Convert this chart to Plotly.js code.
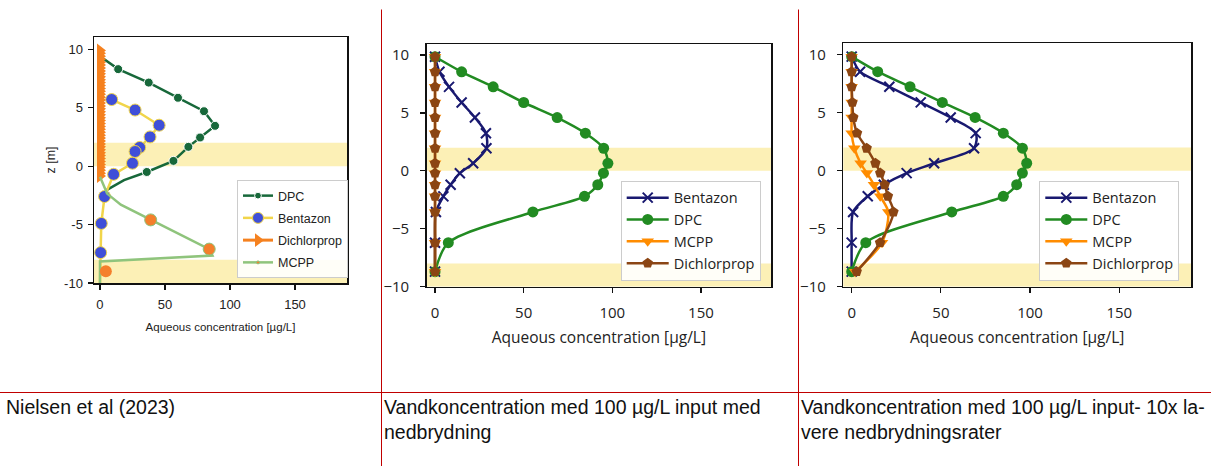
<!DOCTYPE html>
<html>
<head>
<meta charset="utf-8">
<script src="https://cdn.plot.ly/plotly-3.0.1.min.js"></script>
<style>
  html, body { margin: 0; padding: 0; background: #ffffff; }
  #chart { width: 1211px; height: 466px; }
</style>
</head>
<body>
<div id="chart"></div>
<script>
// ---------- Nielsen et al (2023) profile ----------
const nielsenDpcZ = [9.4, 8.3, 7.15, 5.85, 4.7, 3.45, 2.45, 1.65, 0.45, -0.5, -1.2, -2.05];
const nielsenDpcC = [0, 14, 37.5, 60, 80, 88.5, 77, 68, 56.5, 36, 18.5, 5];
const nielsenDpcMarker = [0, 9, 9, 9, 9, 9, 9, 9, 9, 9, 0, 0];

const nielsenBentazonZ = [5.7, 4.8, 3.5, 2.5, 1.6, 1.25, 0.25, -0.7, -2.6, -4.9, -7.4, -10];
const nielsenBentazonC = [9, 27, 45.5, 38.5, 30.5, 27, 25, 10.5, 3.5, 1, 0.5, 0];
const nielsenBentazonMarker = [12, 12, 12, 12, 12, 12, 12, 12, 12, 12, 12, 0];

const nielsenDichlorpropZ = [9.9, 9.65, 9.4, 9.15, 8.9, 8.65, 8.4, 8.15, 7.9, 7.65, 7.4, 7.15,
  6.9, 6.65, 6.4, 6.15, 5.9, 5.65, 5.4, 5.15, 4.9, 4.65, 4.4, 4.15, 3.9, 3.65, 3.4, 3.15,
  2.9, 2.65, 2.4, 2.15, 1.9, 1.65, 1.4, 1.15, 0.9, 0.65, 0.4, 0.15, -0.1, -0.35, -0.6, -0.85];
const nielsenDichlorpropC = [0, 0, 0, 0, 0, 0, 0, 0, 0, 0, 0, 0, 0, 0, 0, 0, 0, 0, 0, 0, 0, 0,
  0, 0, 0, 0, 0, 0, 0, 0, 0, 0, 0, 0, 0, 0, 0, 0, 0, 0, 0, 0, 0, 0];

const nielsenMcppZ = [-0.9, -2.35, -3.3, -4.6, -7.1, -7.65, -8.15, -10];
const nielsenMcppC = [0, 5.5, 16, 39, 84, 86.5, 0, 0];
const nielsenMcppMarker = [0, 0, 0, 12, 12, 0, 0, 0];
const nielsenMcppExtraZ = [-9.0];
const nielsenMcppExtraC = [4.5];

// ---------- model depth levels (m) ----------
const depthLevels = [9.85, 8.55, 7.25, 5.9, 4.6, 3.25, 1.95, 0.65, -0.2, -1.2, -2.2, -3.55, -6.2, -8.7];

// 100 µg/L input, with degradation
const bentazonDeg    = [0, 2.5, 7.9, 15, 22.5, 28.7, 29, 21.5, 14, 8.8, 4.7, 0.5, 0, 0];
const dpcDeg         = [0, 15, 32.8, 50, 68.9, 84.8, 95.1, 97.5, 95, 91.8, 84.3, 55.2, 7.5, 0];
const mcppDeg        = [0, 0, 0, 0, 0, 0, 0, 0, 0, 0, 0, 0, 0, 0];
const dichlorpropDeg = [0, 0, 0, 0, 0, 0, 0, 0, 0, 0, 0, 0, 0, 0];

// 100 µg/L input, 10x lower degradation rates
const bentazonSlow    = [0, 4.7, 21.1, 38.7, 55.5, 69.5, 68.6, 46.2, 30.8, 18, 9, 0.8, 0, 0];
const dpcSlow         = [0, 14.6, 32.7, 50.8, 69.2, 85, 95.7, 98.1, 95.7, 92.5, 85, 56.1, 7.9, 0];
const mcppSlow        = [0, 0, 0, 0, 0, 0, 1.5, 5, 8.5, 12.5, 16, 20.5, 17, 2];
const dichlorpropSlow = [0, 0, 0, 0.4, 0.9, 3, 8.4, 13.3, 16, 18.5, 20.3, 23.4, 15.9, 2.8];

const xTicks = [0, 50, 100, 150];
const zTicks = [-10, -5, 0, 5, 10];
const zTickTextHyphen = ['-10', '-5', '0', '5', '10'];

const xTitle = 'Aqueous concentration [µg/L]';
const captions = [
  'Nielsen et al (2023)',
  'Vandkoncentration med 100 µg/L input med<br>nedbrydning',
  'Vandkoncentration med 100 µg/L input- 10x la-<br>vere nedbrydningsrater'
];

// ---------- styling ----------
const simFont = 'Open Sans, Liberation Sans, sans-serif';
const smallFont = 'Liberation Sans, Arial, sans-serif';
const captionFont = 'Liberation Sans, Arial, sans-serif';
const bandColor = '#fcf0b6';
const tableRed = '#c00000';
const W = 1211, H = 466;
const px = v => v / W;
const py = v => 1 - v / H;

const traces = [];

// Nielsen panel (each entry in its own legend group so the rows can be spaced)
traces.push({
  name: 'DPC', x: nielsenDpcC, y: nielsenDpcZ, xaxis: 'x', yaxis: 'y', legend: 'legend',
  legendgroup: 'ndpc', mode: 'lines+markers', line: { color: '#17683a', width: 2.5 },
  marker: { color: '#17683a', size: nielsenDpcMarker, symbol: 'circle', opacity: 1 }
});
traces.push({
  name: 'Bentazon', x: nielsenBentazonC, y: nielsenBentazonZ, xaxis: 'x', yaxis: 'y', legend: 'legend',
  legendgroup: 'nbent', mode: 'lines+markers', line: { color: '#f1d54a', width: 2.5 },
  marker: { color: '#3f4fd8', size: nielsenBentazonMarker, symbol: 'circle', opacity: 1 }
});
traces.push({
  name: 'Dichlorprop', x: nielsenDichlorpropC, y: nielsenDichlorpropZ, xaxis: 'x', yaxis: 'y', legend: 'legend',
  legendgroup: 'ndich', mode: 'lines+markers', line: { color: '#f5811f', width: 3 },
  marker: { color: '#f5811f', size: 12, symbol: 'triangle-right', opacity: 1 }
});
traces.push({
  name: 'MCPP', x: nielsenMcppC, y: nielsenMcppZ, xaxis: 'x', yaxis: 'y', legend: 'legend',
  legendgroup: 'nmcpp', mode: 'lines+markers', line: { color: '#8fc47c', width: 2.5 },
  marker: { color: '#f47f2c', size: nielsenMcppMarker, symbol: 'circle', opacity: 1 }
});
traces.push({
  name: 'MCPP', x: nielsenMcppExtraC, y: nielsenMcppExtraZ, xaxis: 'x', yaxis: 'y', legend: 'legend',
  legendgroup: 'nmcpp', showlegend: false, mode: 'markers',
  marker: { color: '#f47f2c', size: 12, symbol: 'circle', opacity: 1 }
});

// simulation panels
function simTraces(ax, leg, bent, dpc, mcpp, dich) {
  const common = { y: depthLevels, xaxis: 'x' + ax, yaxis: 'y' + ax, legend: leg, mode: 'lines+markers' };
  return [
    Object.assign({}, common, {
      name: 'Bentazon', x: bent,
      line: { color: '#191970', width: 2.5, shape: 'spline', smoothing: 0.8 },
      marker: { symbol: 'x-thin', size: 10, color: '#191970', line: { color: '#191970', width: 2 } }
    }),
    Object.assign({}, common, {
      name: 'DPC', x: dpc,
      line: { color: '#228b22', width: 2.5, shape: 'spline', smoothing: 0.8 },
      marker: { symbol: 'circle', size: 11, color: '#228b22' }
    }),
    Object.assign({}, common, {
      name: 'MCPP', x: mcpp,
      line: { color: '#ff8c00', width: 2.5, shape: 'spline', smoothing: 0.8 },
      marker: { symbol: 'triangle-down', size: 11, color: '#ff8c00' }
    }),
    Object.assign({}, common, {
      name: 'Dichlorprop', x: dich,
      line: { color: '#8b4513', width: 2.5, shape: 'spline', smoothing: 0.8 },
      marker: { symbol: 'pentagon', size: 11, color: '#8b4513' }
    })
  ];
}
traces.push(...simTraces('2', 'legend2', bentazonDeg, dpcDeg, mcppDeg, dichlorpropDeg));
traces.push(...simTraces('3', 'legend3', bentazonSlow, dpcSlow, mcppSlow, dichlorpropSlow));

// axes
function xAxis(anchor, domain, range, font, size, titleSize, standoff, labelGap) {
  return {
    anchor: anchor, domain: domain, range: range, tickvals: xTicks, showgrid: false, zeroline: false,
    showline: true, mirror: true, linecolor: '#111', linewidth: 1.5,
    ticks: 'outside', ticklen: 5, tickwidth: 1.2, tickcolor: '#111',
    tickfont: { family: font, size: size, color: '#222' }, ticklabelstandoff: labelGap,
    title: { text: xTitle, font: { family: font, size: titleSize, color: '#222' }, standoff: standoff },
    fixedrange: true
  };
}
function yAxis(anchor, domain, range, font, size, labelGap) {
  return {
    anchor: anchor, domain: domain, range: range, tickvals: zTicks, showgrid: false, zeroline: false,
    showline: true, mirror: true, linecolor: '#111', linewidth: 1.5,
    ticks: 'outside', ticklen: 5, tickwidth: 1.2, tickcolor: '#111',
    tickfont: { family: font, size: size, color: '#222' }, ticklabelstandoff: labelGap,
    fixedrange: true
  };
}

const nielsenY = yAxis('x', [py(283), py(37)], [-10, 11.05], smallFont, 13, 2);
nielsenY.ticktext = zTickTextHyphen;
nielsenY.title = { text: 'z [m]', font: { family: smallFont, size: 12.5, color: '#222' }, standoff: 5 };

const layout = {
  width: W, height: H, margin: { l: 0, r: 0, t: 0, b: 0 },
  paper_bgcolor: '#ffffff', plot_bgcolor: '#ffffff', showlegend: true,
  xaxis: xAxis('y', [px(94), px(347)], [-4.6, 190], smallFont, 13, 11.5, 12, 4),
  yaxis: nielsenY,
  xaxis2: xAxis('y2', [px(426.7), px(771)], [-4.7, 189.5], simFont, 15, 15.5, 11, 7),
  yaxis2: yAxis('x2', [py(286.7), py(44)], [-10, 10.95], simFont, 15, 8),
  xaxis3: xAxis('y3', [px(843.3), px(1191)], [-4.7, 190.2], simFont, 15, 15.5, 11, 7),
  yaxis3: yAxis('x3', [py(286.7), py(43.3)], [-10, 11.0], simFont, 15, 8),
  legend: {
    x: px(237), y: py(180), xanchor: 'left', yanchor: 'top', traceorder: 'grouped',
    tracegroupgap: 3,
    bgcolor: 'rgba(255,255,255,0.9)', bordercolor: '#cccccc', borderwidth: 1,
    font: { family: smallFont, size: 12.5, color: '#222' }, itemwidth: 30
  },
  legend2: {
    x: px(620.7), y: py(180.7), xanchor: 'left', yanchor: 'top', traceorder: 'normal',
    bgcolor: 'rgba(255,255,255,0.9)', bordercolor: '#cccccc', borderwidth: 1,
    font: { family: simFont, size: 14.5, color: '#222' }, itemwidth: 42
  },
  legend3: {
    x: px(1039.3), y: py(180.7), xanchor: 'left', yanchor: 'top', traceorder: 'normal',
    bgcolor: 'rgba(255,255,255,0.9)', bordercolor: '#cccccc', borderwidth: 1,
    font: { family: simFont, size: 14.5, color: '#222' }, itemwidth: 42
  },
  shapes: [],
  annotations: []
};

// clay layers shaded in each profile
[['x', 'y'], ['x2', 'y2'], ['x3', 'y3']].forEach(([xa, ya]) => {
  [[0, 2], [-10, -8]].forEach(([z0, z1]) => {
    layout.shapes.push({
      type: 'rect', xref: xa + ' domain', yref: ya, x0: 0, x1: 1, y0: z0, y1: z1,
      fillcolor: bandColor, line: { width: 0 }, layer: 'below'
    });
  });
});

// table rules
layout.shapes.push({ type: 'line', xref: 'paper', yref: 'paper', x0: 0, x1: 1, y0: py(392.5), y1: py(392.5),
  line: { color: tableRed, width: 1 } });
[381.5, 798.5].forEach(xv => {
  layout.shapes.push({ type: 'line', xref: 'paper', yref: 'paper', x0: px(xv), x1: px(xv), y0: py(9.5), y1: 0,
    line: { color: tableRed, width: 1 } });
});

// captions
[4, 382, 799].forEach((xv, i) => {
  layout.annotations.push({
    xref: 'paper', yref: 'paper', x: px(xv), y: py(393.5), xanchor: 'left', yanchor: 'top',
    align: 'left', showarrow: false, text: captions[i],
    font: { family: captionFont, size: 19.5, color: '#111' }
  });
});

Plotly.newPlot('chart', traces, layout, { displayModeBar: false, staticPlot: true });
</script>
</body>
</html>
